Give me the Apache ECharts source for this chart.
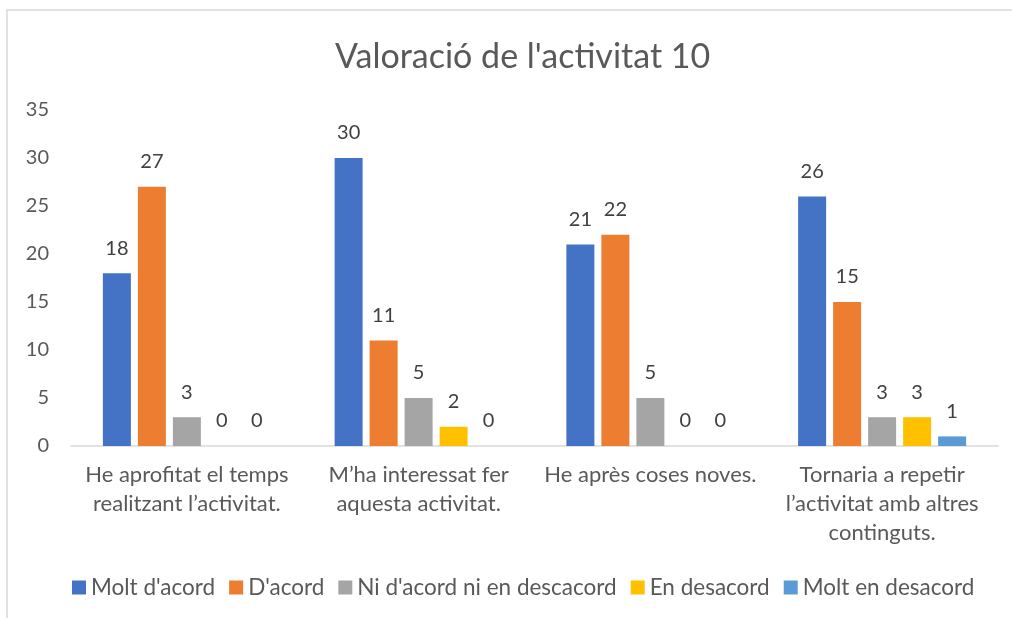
<!DOCTYPE html>
<html><head><meta charset="utf-8">
<script src="https://cdn.jsdelivr.net/npm/echarts@6/dist/echarts.min.js"></script>
<style>html,body{margin:0;padding:0;background:#fff}#c{width:1012px;height:618px}</style>
</head><body><div id="c"></div>
<script>
const categories = ["He aprofitat el temps\nrealitzant l’activitat.", "M’ha interessat fer\naquesta activitat.", "He après coses noves.", "Tornaria a repetir\nl’activitat amb altres\ncontinguts."];
const seriesNames = ["Molt d'acord", "D'acord", "Ni d'acord ni en descacord", "En desacord", "Molt en desacord"];
const moltDacord = [18, 30, 21, 26];
const dacord = [27, 11, 22, 15];
const niDacord = [3, 5, 5, 3];
const enDesacord = [0, 2, 0, 3];
const moltEnDesacord = [0, 0, 0, 1];
const colors = ["#4472C4", "#ED7D31", "#A5A5A5", "#FFC000", "#5B9BD5"];
const values = [moltDacord, dacord, niDacord, enDesacord, moltEnDesacord];
const FONT = "Lato";
const chart = echarts.init(document.getElementById('c'));
chart.setOption({
  animation: false,
  textStyle: {fontFamily: FONT},
  title: {text: "Valoració de l'activitat 10", left: 330, top: 35,
    textStyle: {fontFamily: FONT, fontSize: 34, fontWeight: 'normal', color: '#595959'}},
  graphic: [{type: 'rect', shape: {x: 7, y: 10, width: 1100, height: 700},
    style: {fill: 'none', stroke: '#D9D9D9', lineWidth: 1.5}, silent: true}],
  grid: {left: 71, right: 14, top: 110, bottom: 172},
  legend: {bottom: 14, left: 67, itemWidth: 14, itemHeight: 14, itemGap: 14,
    icon: 'rect', textStyle: {fontFamily: FONT, fontSize: 22.5, color: '#595959', padding: [0,0,0,0]},
    data: seriesNames},
  xAxis: {type: 'category', data: categories,
    axisLine: {lineStyle: {color: '#D9D9D9', width: 1.5}}, axisTick: {show: false},
    axisLabel: {interval: 0, margin: 14, fontFamily: FONT, fontSize: 22, lineHeight: 29, color: '#595959'}},
  yAxis: {type: 'value', min: 0, max: 35, interval: 5,
    axisLine: {show: false}, axisTick: {show: false}, splitLine: {show: false},
    axisLabel: {margin: 22, fontFamily: FONT, fontSize: 20, color: '#595959'}},
  series: seriesNames.map((n, i) => ({
    name: n, type: 'bar', data: values[i], barWidth: 28, barGap: '25%',
    itemStyle: {color: colors[i]},
    label: {show: true, position: 'top', distance: 15, fontFamily: FONT, fontSize: 20, color: '#404040'}
  }))
});
</script></body></html>
